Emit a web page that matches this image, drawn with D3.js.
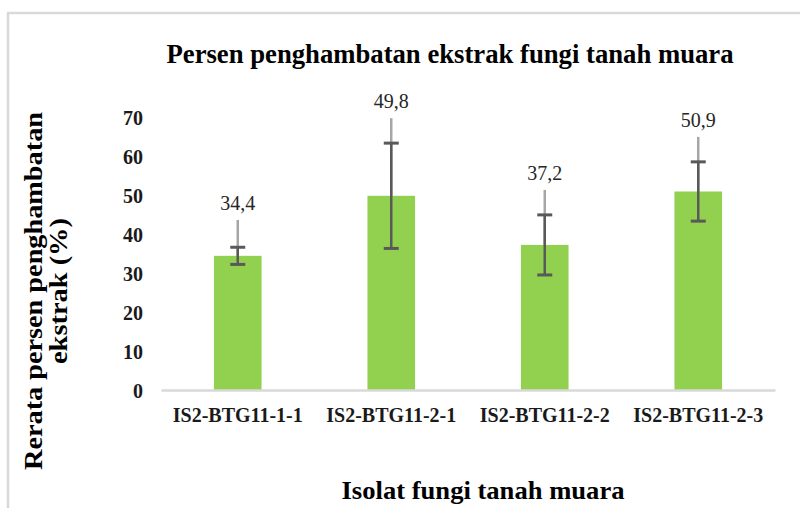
<!DOCTYPE html>
<html>
<head>
<meta charset="utf-8">
<script src="https://cdn.jsdelivr.net/npm/d3@7"></script>
<style>
    body { margin: 0; background: #fff; }
</style>
</head>
<body>
<div id="chart"></div>
<script>
const categories = ["IS2-BTG11-1-1", "IS2-BTG11-2-1", "IS2-BTG11-2-2", "IS2-BTG11-2-3"];
const means = [34.4, 49.8, 37.2, 50.9];
const sd = [2.2, 13.5, 7.7, 7.6];
const errPlus = [9.2, 19.9, 14.1, 14.0];
const labels = ["34,4", "49,8", "37,2", "50,9"];
const yTicks = [0, 10, 20, 30, 40, 50, 60, 70];

const rows = categories.map((c, i) => ({
    cat: c, mean: means[i], sd: sd[i], plus: errPlus[i], label: labels[i]
}));

const width = 800;
const height = 508;
const serif = "'Liberation Serif', 'Times New Roman', Times, serif";

const svg = d3.select("#chart")
    .append("svg")
    .attr("width", width)
    .attr("height", height)
    .attr("font-family", serif);

//frame
svg.append("rect")
    .attr("x", 8)
    .attr("y", 13)
    .attr("width", 830)
    .attr("height", 540)
    .attr("fill", "none")
    .attr("stroke", "#d9d9d9")
    .attr("stroke-width", 2.5);

const x = d3.scaleBand()
    .domain(categories)
    .range([161, 775])
    .paddingInner(0.69)
    .paddingOuter(0.345);

const y = d3.scaleLinear()
    .domain([0, 70])
    .range([390, 117]);

//title
svg.append("text")
    .attr("x", 450)
    .attr("y", 63)
    .attr("text-anchor", "middle")
    .attr("font-family", serif)
    .attr("font-size", 27)
    .attr("font-weight", "bold")
    .attr("textLength", 567)
    .attr("lengthAdjust", "spacingAndGlyphs")
    .text("Persen penghambatan ekstrak fungi tanah  muara");

//y axis
const yAxis = d3.axisLeft(y)
    .tickValues(yTicks)
    .tickSize(0)
    .tickPadding(0);

const yg = svg.append("g")
    .attr("transform", "translate(143,0)")
    .call(yAxis)
    .attr("font-family", serif);
yg.select(".domain").remove();
yg.selectAll("text")
    .attr("font-family", serif)
    .attr("font-size", 20)
    .attr("font-weight", "bold")
    .attr("fill", "#1a1a1a")
    .attr("dy", "0.36em");

//bars
svg.selectAll("rect.bar")
    .data(rows)
    .enter()
    .append("rect")
    .attr("class", "bar")
    .attr("x", d => x(d.cat))
    .attr("y", d => y(d.mean))
    .attr("width", x.bandwidth())
    .attr("height", d => y(0) - y(d.mean))
    .attr("fill", "#92d050");

//x axis
const xAxis = d3.axisBottom(x).tickSize(0).tickPadding(0);
const xg = svg.append("g")
    .attr("transform", `translate(0,${y(0)})`)
    .call(xAxis)
    .attr("font-family", serif);
xg.select(".domain")
    .attr("stroke", "#d9d9d9")
    .attr("stroke-width", 2.5);
xg.selectAll("text")
    .attr("font-family", serif)
    .attr("font-size", 20)
    .attr("font-weight", "bold")
    .attr("fill", "#1a1a1a")
    .attr("dy", 0)
    .attr("y", 32);

//error bars
const capW = 15;
const err = svg.selectAll("g.err")
    .data(rows)
    .enter()
    .append("g")
    .attr("class", "err")
    .attr("transform", d => `translate(${x(d.cat) + x.bandwidth() / 2},0)`);

err.append("line")
    .attr("y1", d => y(d.mean))
    .attr("y2", d => y(d.mean + d.plus))
    .attr("stroke", "#a6a6a6")
    .attr("stroke-width", 2.5);

err.append("line")
    .attr("y1", d => y(d.mean - d.sd))
    .attr("y2", d => y(d.mean + d.sd))
    .attr("stroke", "#595959")
    .attr("stroke-width", 2.5);

[d => d.mean - d.sd, d => d.mean + d.sd].forEach(f => {
    err.append("line")
        .attr("x1", -capW / 2)
        .attr("x2", capW / 2)
        .attr("y1", d => y(f(d)))
        .attr("y2", d => y(f(d)))
        .attr("stroke", "#595959")
        .attr("stroke-width", 3);
});

//data labels
err.append("text")
    .attr("y", d => y(d.mean + d.plus) - 10)
    .attr("text-anchor", "middle")
    .attr("font-family", serif)
    .attr("font-size", 20)
    .attr("fill", "#262626")
    .text(d => d.label);

//axis titles
const yTitle = svg.append("g")
    .attr("transform", "translate(0,291) rotate(-90)");
yTitle.append("text")
    .attr("x", 0)
    .attr("y", 42)
    .attr("text-anchor", "middle")
    .attr("font-family", serif)
    .attr("font-size", 26)
    .attr("font-weight", "bold")
    .attr("textLength", 358)
    .attr("lengthAdjust", "spacingAndGlyphs")
    .text("Rerata persen penghambatan");
yTitle.append("text")
    .attr("x", 0)
    .attr("y", 67)
    .attr("text-anchor", "middle")
    .attr("font-family", serif)
    .attr("font-size", 26)
    .attr("font-weight", "bold")
    .attr("textLength", 146)
    .attr("lengthAdjust", "spacingAndGlyphs")
    .text("ekstrak (%)");

svg.append("text")
    .attr("x", 483)
    .attr("y", 499)
    .attr("text-anchor", "middle")
    .attr("font-family", serif)
    .attr("font-size", 25)
    .attr("font-weight", "bold")
    .attr("textLength", 283)
    .attr("lengthAdjust", "spacingAndGlyphs")
    .text("Isolat fungi tanah muara");
</script>
</body>
</html>
